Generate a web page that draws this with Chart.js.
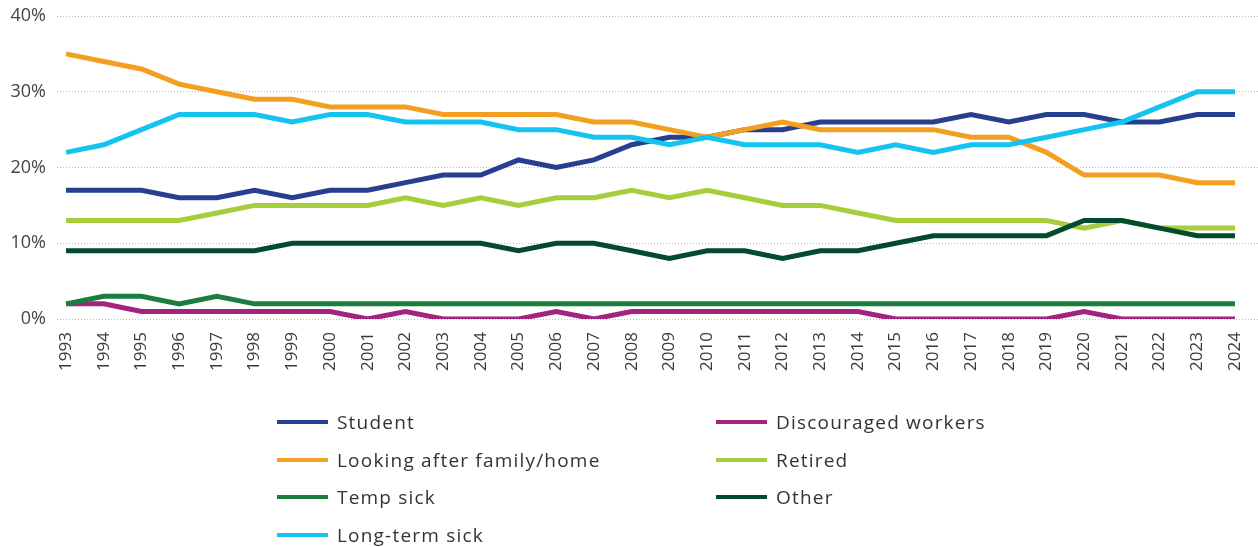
<!DOCTYPE html>
<html>
<head>
<meta charset="utf-8">
<script src="https://cdn.jsdelivr.net/npm/chart.js@4"></script>
<style>
  html, body { margin: 0; padding: 0; background: #fff; }
  #wrap { position: relative; width: 1258px; height: 547px; }
  #c { position: absolute; left: 0; top: 0; }
  #legend { position: absolute; left: 0; top: 0; width: 1258px; height: 547px; pointer-events: none;
            font-family: "Open Sans", sans-serif; font-size: 19px; letter-spacing: 1.2px; color: #333; }
  .item { position: absolute; display: flex; align-items: center; height: 24px; white-space: nowrap; }
  .swatch { width: 51px; height: 4px; margin-right: 9px; }
</style>
</head>
<body>
<div id="wrap">
  <canvas id="c" width="1258" height="547"></canvas>
  <div id="legend"></div>
</div>
<script>
const years = [1993,1994,1995,1996,1997,1998,1999,2000,2001,2002,2003,2004,2005,2006,2007,2008,2009,2010,2011,2012,2013,2014,2015,2016,2017,2018,2019,2020,2021,2022,2023,2024];

const student      = [17,17,17,16,16,17,16,17,17,18,19,19,21,20,21,23,24,24,25,25,26,26,26,26,27,26,27,27,26,26,27,27];
const discouraged  = [2,2,1,1,1,1,1,1,0,1,0,0,0,1,0,1,1,1,1,1,1,1,0,0,0,0,0,1,0,0,0,0];
const lookingAfter = [35,34,33,31,30,29,29,28,28,28,27,27,27,27,26,26,25,24,25,26,25,25,25,25,24,24,22,19,19,19,18,18];
const retired      = [13,13,13,13,14,15,15,15,15,16,15,16,15,16,16,17,16,17,16,15,15,14,13,13,13,13,13,12,13,12,12,12];
const tempSick     = [2,3,3,2,3,2,2,2,2,2,2,2,2,2,2,2,2,2,2,2,2,2,2,2,2,2,2,2,2,2,2,2];
const other        = [9,9,9,9,9,9,10,10,10,10,10,10,9,10,10,9,8,9,9,8,9,9,10,11,11,11,11,13,13,12,11,11];
const longTermSick = [22,23,25,27,27,27,26,27,27,26,26,26,25,25,24,24,23,24,23,23,23,22,23,22,23,23,24,25,26,28,30,30];

const seriesNames = ["Student","Discouraged workers","Looking after family/home","Retired","Temp sick","Other","Long-term sick"];
const seriesData  = [student, discouraged, lookingAfter, retired, tempSick, other, longTermSick];
const seriesColors = ["#263f8e","#a3237f","#f29f22","#a6cd3a","#1b7d3f","#044a2c","#15c3f1"];
const drawOrder = [2,6,1,4,5,3,0];
const yTicks = [0,10,20,30,40];

const datasets = seriesNames.map((name, i) => ({
  label: name,
  data: years.map((y, j) => ({x: y, y: seriesData[i][j]})),
  borderColor: seriesColors[i],
  backgroundColor: seriesColors[i],
  borderWidth: 5,
  pointRadius: 0,
  pointHoverRadius: 0,
  tension: 0,
  fill: false,
  order: drawOrder[i]
}));

new Chart(document.getElementById('c'), {
  type: 'line',
  data: { datasets },
  options: {
    responsive: false,
    animation: false,
    layout: { autoPadding: false, padding: { top: 16, left: 0, right: 0, bottom: 0 } },
    plugins: { legend: { display: false }, tooltip: { enabled: false } },
    scales: {
      x: {
        type: 'linear',
        min: 1992.76,
        max: 2024.61,
        grid: { display: false, drawTicks: false },
        border: { display: false },
        afterBuildTicks: (axis) => { axis.ticks = years.map(v => ({ value: v })); },
        afterFit: (scale) => { scale.height = 547 - 319; scale.paddingLeft = 0; scale.paddingRight = 0; },
        ticks: {
          autoSkip: false,
          minRotation: 90,
          maxRotation: 90,
          padding: 13,
          color: '#3a3a3a',
          font: { family: '"Open Sans", sans-serif', size: 17 },
          callback: (v) => String(v)
        }
      },
      y: {
        min: 0,
        max: 40,
        afterBuildTicks: (axis) => { axis.ticks = yTicks.map(v => ({ value: v })); },
        afterFit: (scale) => { scale.width = 57; scale.paddingTop = 0; scale.paddingBottom = 0; },
        grid: { color: '#bdbdbd', lineWidth: 1, drawTicks: false },
        border: { display: false, dash: [1, 2] },
        ticks: {
          padding: 11,
          color: '#444',
          font: { family: '"Open Sans", sans-serif', size: 18 },
          callback: (v) => v + '%'
        }
      }
    }
  }
});

// HTML legend built from the datasets (two columns, row-major order)
const legend = document.getElementById('legend');
const colX = [277, 716];
const rowY = [422, 460, 497, 535];
seriesNames.forEach((name, i) => {
  const col = i % 2, row = Math.floor(i / 2);
  const el = document.createElement('div');
  el.className = 'item';
  el.style.left = colX[col] + 'px';
  el.style.top = (rowY[row] - 12) + 'px';
  const sw = document.createElement('span');
  sw.className = 'swatch';
  sw.style.background = seriesColors[i];
  const tx = document.createElement('span');
  tx.textContent = name;
  el.appendChild(sw); el.appendChild(tx);
  legend.appendChild(el);
});
</script>
</body>
</html>
